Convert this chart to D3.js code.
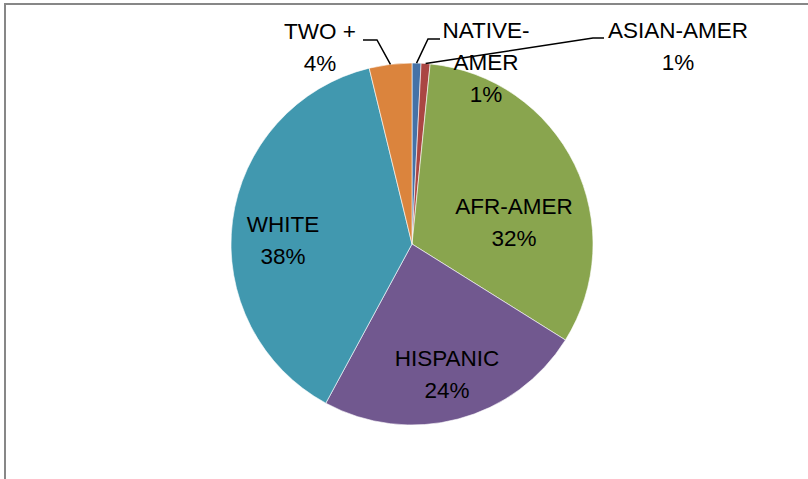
<!DOCTYPE html>
<html>
<head>
<meta charset="utf-8">
<script src="https://cdn.jsdelivr.net/npm/d3@7"></script>
<style>
  body { margin: 0; background: #fff; }
  text { font-family: "Liberation Sans", Arial, sans-serif; font-size: 22.5px; fill: #000; }
</style>
</head>
<body>
<div id="pie_chart"></div>
<script>
// Chart data
var categories = ["NATIVE-AMER", "ASIAN-AMER", "AFR-AMER", "HISPANIC", "WHITE", "TWO +"];
var shares = [0.8, 0.8, 32.3, 24.0, 38.3, 3.8];
var labelLines = [["NATIVE-", "AMER"], ["ASIAN-AMER"], ["AFR-AMER"], ["HISPANIC"], ["WHITE"], ["TWO +"]];

// Styles
var colors = ["#4572A7", "#AA4643", "#89A54E", "#71588F", "#4198AF", "#DB843D"];

var width = 808, height = 479;
var cx = 412, cy = 244, radius = 181;
var lineGap = 32;

// label placement, relative to the pie centre (first baseline, centred)
var labelPos = {
    "NATIVE-AMER": [74, -206],
    "ASIAN-AMER": [266, -206],
    "AFR-AMER": [102, -30],
    "HISPANIC": [35, 122],
    "WHITE": [-129, -12],
    "TWO +": [-92, -205]
};
// leader lines for the small slices: elbow point and end of the short horizontal
var leaders = {
    "TWO +": [[-35, -204], [-49, -204]],
    "NATIVE-AMER": [[16, -205], [28, -205]],
    "ASIAN-AMER": [[181, -206], [192, -206]]
};

var data = categories.map(function(c, i) {
    return { name: c, value: shares[i], lines: labelLines[i], color: colors[i] };
});
var total = d3.sum(shares);

var svg = d3.select("#pie_chart")
    .append("svg")
    .attr("width", width)
    .attr("height", height);

// chart area border (only top and left edges are in view)
svg.append("rect")
    .attr("x", 5)
    .attr("y", 4)
    .attr("width", 1000)
    .attr("height", 800)
    .attr("fill", "none")
    .attr("stroke", "#878787")
    .attr("stroke-width", 2);

var g = svg.append("g")
    .attr("transform", "translate(" + cx + "," + cy + ")");

var pie = d3.pie()
    .sort(null)
    .value(function(d) { return d.value; });

var arc = d3.arc()
    .innerRadius(0)
    .outerRadius(radius);

var arcs = pie(data);

g.selectAll("path.slice")
    .data(arcs)
    .enter()
    .append("path")
    .attr("class", "slice")
    .attr("d", arc)
    .attr("fill", function(d) { return d.data.color; })
    .attr("stroke", "#fff")
    .attr("stroke-width", 0.6);

// leader lines
g.selectAll("polyline.leader")
    .data(arcs.filter(function(d) { return leaders[d.data.name]; }))
    .enter()
    .append("polyline")
    .attr("class", "leader")
    .attr("points", function(d) {
        var mid = (d.startAngle + d.endAngle) / 2;
        var start = [radius * Math.sin(mid), -radius * Math.cos(mid)];
        var pts = [start].concat(leaders[d.data.name]);
        return pts.map(function(p) { return p.join(","); }).join(" ");
    })
    .attr("fill", "none")
    .attr("stroke", "#000")
    .attr("stroke-width", 1.5);

// labels: category name lines then the percentage
var labels = g.selectAll("text.label")
    .data(arcs)
    .enter()
    .append("text")
    .attr("class", "label")
    .attr("text-anchor", "middle")
    .attr("transform", function(d) {
        var p = labelPos[d.data.name];
        return "translate(" + p[0] + "," + p[1] + ")";
    });

labels.each(function(d) {
    var t = d3.select(this);
    var lines = d.data.lines.concat([Math.round(d.data.value / total * 100) + "%"]);
    lines.forEach(function(s, i) {
        t.append("tspan")
            .attr("x", 0)
            .attr("y", i * lineGap)
            .text(s);
    });
});
</script>
</body>
</html>
